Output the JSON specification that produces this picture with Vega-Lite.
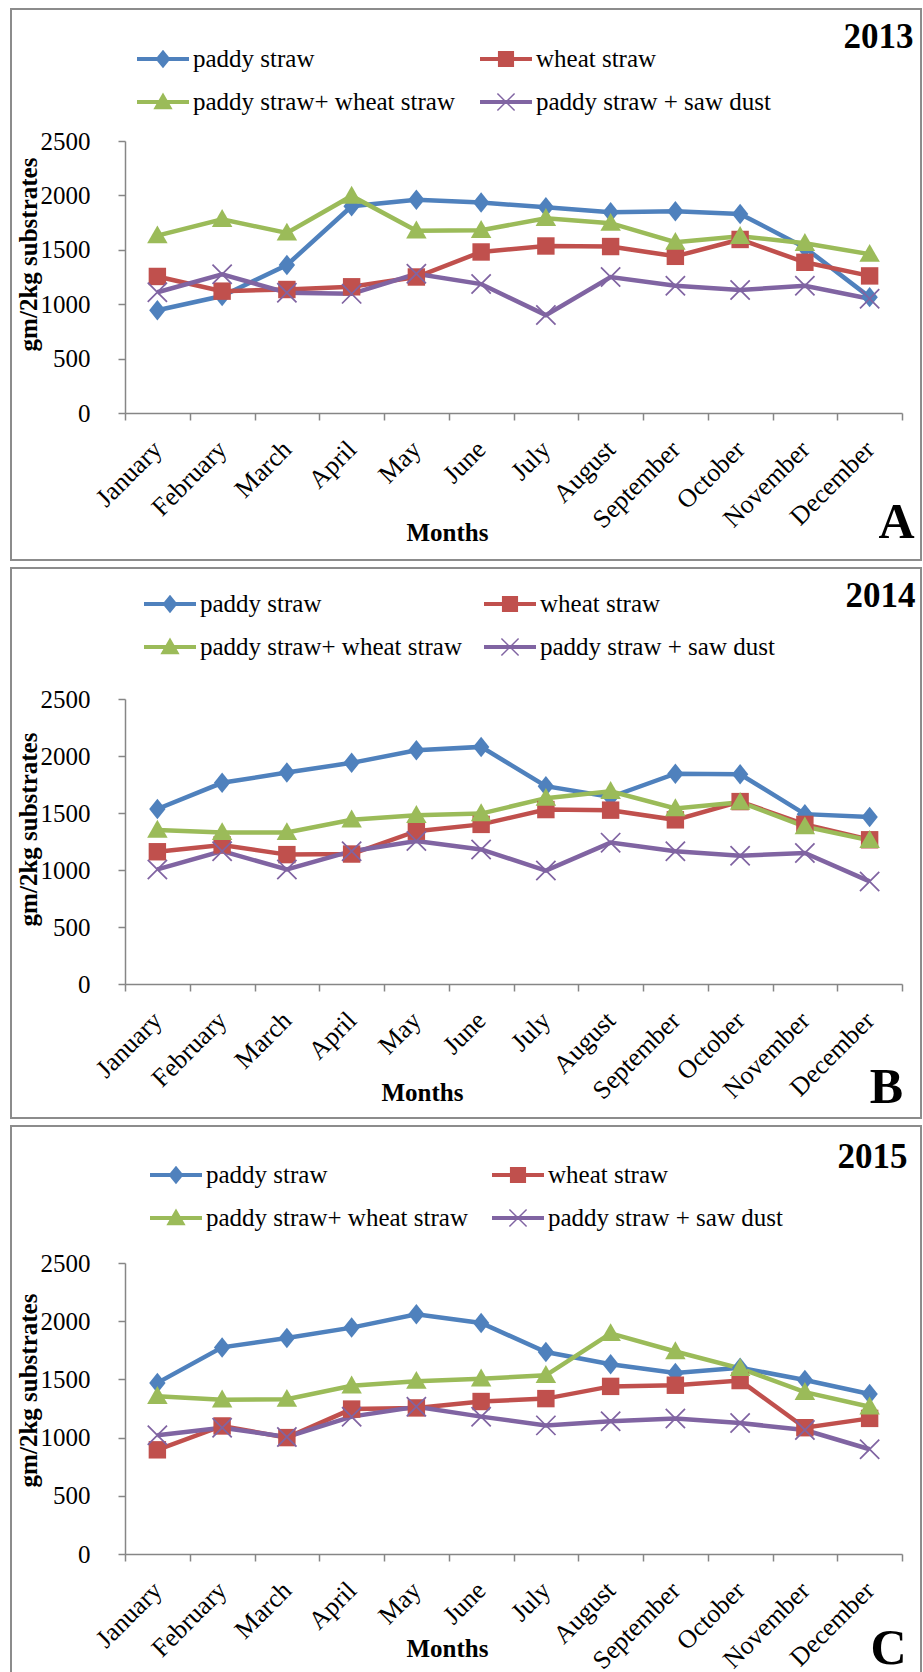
{
  "$schema": "https://vega.github.io/schema/vega-lite/v6.json",
  "padding": {"left": 0, "top": 8, "right": 5, "bottom": 0},
  "background": "white",
  "spacing": 8,
  "bounds": "flush",
  "config": {
    "font": "Liberation Serif",
    "view": {"stroke": "#8c8c8c", "strokeWidth": 2},
    "axis": {"labelFont": "Liberation Serif", "labelFontSize": 25, "labelColor": "#000000", "titleFont": "Liberation Serif", "titleFontSize": 25, "titleFontWeight": "bold", "titleColor": "#000000", "domainColor": "#868686", "domainWidth": 1.5, "tickColor": "#868686", "tickWidth": 1.5, "tickSize": 7, "grid": false, "labelOverlap": false},
    "legend": {"labelFont": "Liberation Serif", "labelFontSize": 25, "labelColor": "#000000", "labelLimit": 400}
  },
  "data": {"values": [
    {"year": 2013, "month": "January", "series": "paddy straw", "value": 945},
    {"year": 2013, "month": "February", "series": "paddy straw", "value": 1075},
    {"year": 2013, "month": "March", "series": "paddy straw", "value": 1360},
    {"year": 2013, "month": "April", "series": "paddy straw", "value": 1900},
    {"year": 2013, "month": "May", "series": "paddy straw", "value": 1960},
    {"year": 2013, "month": "June", "series": "paddy straw", "value": 1935},
    {"year": 2013, "month": "July", "series": "paddy straw", "value": 1890},
    {"year": 2013, "month": "August", "series": "paddy straw", "value": 1845},
    {"year": 2013, "month": "September", "series": "paddy straw", "value": 1855},
    {"year": 2013, "month": "October", "series": "paddy straw", "value": 1830},
    {"year": 2013, "month": "November", "series": "paddy straw", "value": 1520},
    {"year": 2013, "month": "December", "series": "paddy straw", "value": 1065},
    {"year": 2013, "month": "January", "series": "wheat straw", "value": 1255},
    {"year": 2013, "month": "February", "series": "wheat straw", "value": 1120},
    {"year": 2013, "month": "March", "series": "wheat straw", "value": 1135},
    {"year": 2013, "month": "April", "series": "wheat straw", "value": 1160},
    {"year": 2013, "month": "May", "series": "wheat straw", "value": 1250},
    {"year": 2013, "month": "June", "series": "wheat straw", "value": 1480},
    {"year": 2013, "month": "July", "series": "wheat straw", "value": 1535},
    {"year": 2013, "month": "August", "series": "wheat straw", "value": 1530},
    {"year": 2013, "month": "September", "series": "wheat straw", "value": 1440},
    {"year": 2013, "month": "October", "series": "wheat straw", "value": 1595},
    {"year": 2013, "month": "November", "series": "wheat straw", "value": 1385},
    {"year": 2013, "month": "December", "series": "wheat straw", "value": 1260},
    {"year": 2013, "month": "January", "series": "paddy straw+ wheat straw", "value": 1630},
    {"year": 2013, "month": "February", "series": "paddy straw+ wheat straw", "value": 1780},
    {"year": 2013, "month": "March", "series": "paddy straw+ wheat straw", "value": 1655},
    {"year": 2013, "month": "April", "series": "paddy straw+ wheat straw", "value": 1995},
    {"year": 2013, "month": "May", "series": "paddy straw+ wheat straw", "value": 1675},
    {"year": 2013, "month": "June", "series": "paddy straw+ wheat straw", "value": 1680},
    {"year": 2013, "month": "July", "series": "paddy straw+ wheat straw", "value": 1790},
    {"year": 2013, "month": "August", "series": "paddy straw+ wheat straw", "value": 1745},
    {"year": 2013, "month": "September", "series": "paddy straw+ wheat straw", "value": 1570},
    {"year": 2013, "month": "October", "series": "paddy straw+ wheat straw", "value": 1625},
    {"year": 2013, "month": "November", "series": "paddy straw+ wheat straw", "value": 1560},
    {"year": 2013, "month": "December", "series": "paddy straw+ wheat straw", "value": 1460},
    {"year": 2013, "month": "January", "series": "paddy straw + saw dust", "value": 1110},
    {"year": 2013, "month": "February", "series": "paddy straw + saw dust", "value": 1275},
    {"year": 2013, "month": "March", "series": "paddy straw + saw dust", "value": 1105},
    {"year": 2013, "month": "April", "series": "paddy straw + saw dust", "value": 1095},
    {"year": 2013, "month": "May", "series": "paddy straw + saw dust", "value": 1280},
    {"year": 2013, "month": "June", "series": "paddy straw + saw dust", "value": 1185},
    {"year": 2013, "month": "July", "series": "paddy straw + saw dust", "value": 900},
    {"year": 2013, "month": "August", "series": "paddy straw + saw dust", "value": 1250},
    {"year": 2013, "month": "September", "series": "paddy straw + saw dust", "value": 1170},
    {"year": 2013, "month": "October", "series": "paddy straw + saw dust", "value": 1130},
    {"year": 2013, "month": "November", "series": "paddy straw + saw dust", "value": 1170},
    {"year": 2013, "month": "December", "series": "paddy straw + saw dust", "value": 1050},
    {"year": 2014, "month": "January", "series": "paddy straw", "value": 1535},
    {"year": 2014, "month": "February", "series": "paddy straw", "value": 1765},
    {"year": 2014, "month": "March", "series": "paddy straw", "value": 1855},
    {"year": 2014, "month": "April", "series": "paddy straw", "value": 1940},
    {"year": 2014, "month": "May", "series": "paddy straw", "value": 2050},
    {"year": 2014, "month": "June", "series": "paddy straw", "value": 2080},
    {"year": 2014, "month": "July", "series": "paddy straw", "value": 1735},
    {"year": 2014, "month": "August", "series": "paddy straw", "value": 1640},
    {"year": 2014, "month": "September", "series": "paddy straw", "value": 1845},
    {"year": 2014, "month": "October", "series": "paddy straw", "value": 1840},
    {"year": 2014, "month": "November", "series": "paddy straw", "value": 1490},
    {"year": 2014, "month": "December", "series": "paddy straw", "value": 1465},
    {"year": 2014, "month": "January", "series": "wheat straw", "value": 1160},
    {"year": 2014, "month": "February", "series": "wheat straw", "value": 1220},
    {"year": 2014, "month": "March", "series": "wheat straw", "value": 1135},
    {"year": 2014, "month": "April", "series": "wheat straw", "value": 1140},
    {"year": 2014, "month": "May", "series": "wheat straw", "value": 1340},
    {"year": 2014, "month": "June", "series": "wheat straw", "value": 1400},
    {"year": 2014, "month": "July", "series": "wheat straw", "value": 1530},
    {"year": 2014, "month": "August", "series": "wheat straw", "value": 1525},
    {"year": 2014, "month": "September", "series": "wheat straw", "value": 1440},
    {"year": 2014, "month": "October", "series": "wheat straw", "value": 1600},
    {"year": 2014, "month": "November", "series": "wheat straw", "value": 1400},
    {"year": 2014, "month": "December", "series": "wheat straw", "value": 1265},
    {"year": 2014, "month": "January", "series": "paddy straw+ wheat straw", "value": 1350},
    {"year": 2014, "month": "February", "series": "paddy straw+ wheat straw", "value": 1330},
    {"year": 2014, "month": "March", "series": "paddy straw+ wheat straw", "value": 1330},
    {"year": 2014, "month": "April", "series": "paddy straw+ wheat straw", "value": 1440},
    {"year": 2014, "month": "May", "series": "paddy straw+ wheat straw", "value": 1480},
    {"year": 2014, "month": "June", "series": "paddy straw+ wheat straw", "value": 1495},
    {"year": 2014, "month": "July", "series": "paddy straw+ wheat straw", "value": 1630},
    {"year": 2014, "month": "August", "series": "paddy straw+ wheat straw", "value": 1690},
    {"year": 2014, "month": "September", "series": "paddy straw+ wheat straw", "value": 1540},
    {"year": 2014, "month": "October", "series": "paddy straw+ wheat straw", "value": 1595},
    {"year": 2014, "month": "November", "series": "paddy straw+ wheat straw", "value": 1380},
    {"year": 2014, "month": "December", "series": "paddy straw+ wheat straw", "value": 1260},
    {"year": 2014, "month": "January", "series": "paddy straw + saw dust", "value": 1005},
    {"year": 2014, "month": "February", "series": "paddy straw + saw dust", "value": 1165},
    {"year": 2014, "month": "March", "series": "paddy straw + saw dust", "value": 1005},
    {"year": 2014, "month": "April", "series": "paddy straw + saw dust", "value": 1165},
    {"year": 2014, "month": "May", "series": "paddy straw + saw dust", "value": 1255},
    {"year": 2014, "month": "June", "series": "paddy straw + saw dust", "value": 1180},
    {"year": 2014, "month": "July", "series": "paddy straw + saw dust", "value": 995},
    {"year": 2014, "month": "August", "series": "paddy straw + saw dust", "value": 1240},
    {"year": 2014, "month": "September", "series": "paddy straw + saw dust", "value": 1165},
    {"year": 2014, "month": "October", "series": "paddy straw + saw dust", "value": 1125},
    {"year": 2014, "month": "November", "series": "paddy straw + saw dust", "value": 1150},
    {"year": 2014, "month": "December", "series": "paddy straw + saw dust", "value": 900},
    {"year": 2015, "month": "January", "series": "paddy straw", "value": 1470},
    {"year": 2015, "month": "February", "series": "paddy straw", "value": 1775},
    {"year": 2015, "month": "March", "series": "paddy straw", "value": 1855},
    {"year": 2015, "month": "April", "series": "paddy straw", "value": 1945},
    {"year": 2015, "month": "May", "series": "paddy straw", "value": 2060},
    {"year": 2015, "month": "June", "series": "paddy straw", "value": 1985},
    {"year": 2015, "month": "July", "series": "paddy straw", "value": 1735},
    {"year": 2015, "month": "August", "series": "paddy straw", "value": 1630},
    {"year": 2015, "month": "September", "series": "paddy straw", "value": 1555},
    {"year": 2015, "month": "October", "series": "paddy straw", "value": 1600},
    {"year": 2015, "month": "November", "series": "paddy straw", "value": 1495},
    {"year": 2015, "month": "December", "series": "paddy straw", "value": 1375},
    {"year": 2015, "month": "January", "series": "wheat straw", "value": 895},
    {"year": 2015, "month": "February", "series": "wheat straw", "value": 1100},
    {"year": 2015, "month": "March", "series": "wheat straw", "value": 1000},
    {"year": 2015, "month": "April", "series": "wheat straw", "value": 1245},
    {"year": 2015, "month": "May", "series": "wheat straw", "value": 1255},
    {"year": 2015, "month": "June", "series": "wheat straw", "value": 1310},
    {"year": 2015, "month": "July", "series": "wheat straw", "value": 1335},
    {"year": 2015, "month": "August", "series": "wheat straw", "value": 1440},
    {"year": 2015, "month": "September", "series": "wheat straw", "value": 1450},
    {"year": 2015, "month": "October", "series": "wheat straw", "value": 1490},
    {"year": 2015, "month": "November", "series": "wheat straw", "value": 1085},
    {"year": 2015, "month": "December", "series": "wheat straw", "value": 1165},
    {"year": 2015, "month": "January", "series": "paddy straw+ wheat straw", "value": 1355},
    {"year": 2015, "month": "February", "series": "paddy straw+ wheat straw", "value": 1325},
    {"year": 2015, "month": "March", "series": "paddy straw+ wheat straw", "value": 1330},
    {"year": 2015, "month": "April", "series": "paddy straw+ wheat straw", "value": 1445},
    {"year": 2015, "month": "May", "series": "paddy straw+ wheat straw", "value": 1485},
    {"year": 2015, "month": "June", "series": "paddy straw+ wheat straw", "value": 1505},
    {"year": 2015, "month": "July", "series": "paddy straw+ wheat straw", "value": 1535},
    {"year": 2015, "month": "August", "series": "paddy straw+ wheat straw", "value": 1895},
    {"year": 2015, "month": "September", "series": "paddy straw+ wheat straw", "value": 1740},
    {"year": 2015, "month": "October", "series": "paddy straw+ wheat straw", "value": 1595},
    {"year": 2015, "month": "November", "series": "paddy straw+ wheat straw", "value": 1390},
    {"year": 2015, "month": "December", "series": "paddy straw+ wheat straw", "value": 1265},
    {"year": 2015, "month": "January", "series": "paddy straw + saw dust", "value": 1020},
    {"year": 2015, "month": "February", "series": "paddy straw + saw dust", "value": 1085},
    {"year": 2015, "month": "March", "series": "paddy straw + saw dust", "value": 1005},
    {"year": 2015, "month": "April", "series": "paddy straw + saw dust", "value": 1180},
    {"year": 2015, "month": "May", "series": "paddy straw + saw dust", "value": 1265},
    {"year": 2015, "month": "June", "series": "paddy straw + saw dust", "value": 1180},
    {"year": 2015, "month": "July", "series": "paddy straw + saw dust", "value": 1105},
    {"year": 2015, "month": "August", "series": "paddy straw + saw dust", "value": 1140},
    {"year": 2015, "month": "September", "series": "paddy straw + saw dust", "value": 1165},
    {"year": 2015, "month": "October", "series": "paddy straw + saw dust", "value": 1125},
    {"year": 2015, "month": "November", "series": "paddy straw + saw dust", "value": 1065},
    {"year": 2015, "month": "December", "series": "paddy straw + saw dust", "value": 900}
  ]},
  "vconcat": [
    {
      "width": 910, "height": 551,
      "transform": [{"filter": "datum.year == 2013"}],
      "layer": [
        {
          "mark": {"type": "line", "strokeWidth": 4.5},
          "encoding": {
            "x": {"field": "month", "type": "nominal", "sort": ["January","February","March","April","May","June","July","August","September","October","November","December"], "scale": {"type": "band", "range": [114, 891], "paddingInner": 0, "paddingOuter": 0},
              "axis": {"orient": "bottom", "offset": -147, "tickBand": "extent", "labelAngle": -45, "labelAlign": "right", "labelBaseline": "middle", "labelPadding": 25, "labelFontSize": 26, "title": "Months", "titleX": 436, "titleY": 119, "titleAlign": "center", "titleBaseline": "middle"}},
            "y": {"field": "value", "type": "quantitative", "scale": {"domain": [0, 2500], "range": [404, 132], "nice": false, "zero": true},
              "axis": {"orient": "left", "offset": -114, "values": [0, 500, 1000, 1500, 2000, 2500], "format": "d", "labelPadding": 28, "title": "gm/2kg substrates", "titleX": -97, "titleY": 245, "titleAngle": -90, "titleAlign": "center", "titleBaseline": "middle"}},
            "color": {"field": "series", "type": "nominal", "scale": {"domain": ["paddy straw", "wheat straw", "paddy straw+ wheat straw", "paddy straw + saw dust"], "range": ["#4F81BD", "#C0504D", "#9BBB59", "#8064A2"]}, "legend": null}
          }
        },
        {
          "mark": {"type": "point", "filled": true, "opacity": 1, "size": 420},
          "encoding": {
            "x": {"field": "month", "type": "nominal", "sort": ["January","February","March","April","May","June","July","August","September","October","November","December"], "scale": {"type": "band", "range": [114, 891], "paddingInner": 0, "paddingOuter": 0},
              "axis": {"orient": "top", "domain": false, "ticks": false, "labels": false, "title": "2013", "titleX": 902, "titleY": 27, "titleAlign": "right", "titleBaseline": "middle", "titleFontSize": 35}},
            "y": {"field": "value", "type": "quantitative", "scale": {"domain": [0, 2500], "range": [404, 132], "nice": false, "zero": true},
              "axis": {"orient": "right", "domain": false, "ticks": false, "labels": false, "title": "A", "titleX": -25, "titleY": 513, "titleAngle": 0, "titleAlign": "center", "titleBaseline": "middle", "titleFontSize": 50}},
            "color": {"field": "series", "type": "nominal", "scale": {"domain": ["paddy straw", "wheat straw", "paddy straw+ wheat straw", "paddy straw + saw dust"], "range": ["#4F81BD", "#C0504D", "#9BBB59", "#8064A2"]}, "legend": null},
            "shape": {"field": "series", "type": "nominal", "scale": {"range": ["M0,-1L0.8,0L0,1L-0.8,0Z", "M-1,-0.88L-0.88,-1L1,0.88L0.88,1Z M1,-0.88L-0.88,1L-1,0.88L0.88,-1Z", "M0,-1L1,0.75H-1Z", "M-0.85,-0.85H0.85V0.85H-0.85Z"]}, "legend": null}
          }
        },
        {
          "transform": [{"filter": "false"}],
          "mark": {"type": "point", "filled": true, "opacity": 1},
          "encoding": {
            "x": {"field": "month", "type": "nominal", "sort": ["January","February","March","April","May","June","July","August","September","October","November","December"], "axis": null},
            "y": {"field": "value", "type": "quantitative", "axis": null},
            "color": {"field": "series", "type": "nominal", "scale": {"domain": ["paddy straw", "wheat straw", "paddy straw+ wheat straw", "paddy straw + saw dust"], "range": ["#4F81BD", "#C0504D", "#9BBB59", "#8064A2"]},
              "legend": {"orient": "none", "legendX": 126, "legendY": 24, "direction": "horizontal", "columns": 2, "title": null, "padding": 0, "symbolSize": 2704, "symbolStrokeWidth": 0, "symbolOpacity": 1, "labelOffset": 4, "columnPadding": 25, "rowPadding": 4}},
            "shape": {"field": "series", "type": "nominal", "scale": {"domain": ["paddy straw", "wheat straw", "paddy straw+ wheat straw", "paddy straw + saw dust"], "range": ["M-1,-0.08H1V0.08H-1Z M0,-0.36L0.29,0L0,0.36L-0.29,0Z", "M-1,-0.08H1V0.08H-1Z M-0.31,-0.31H0.31V0.31H-0.31Z", "M-1,-0.08H1V0.08H-1Z M0,-0.37L0.37,0.28H-0.37Z", "M-1,-0.08H1V0.08H-1Z M-0.35,-0.31L-0.31,-0.35L0.35,0.31L0.31,0.35Z M0.35,-0.31L-0.31,0.35L-0.35,0.31L0.31,-0.35Z"]}}
          }
        }
      ],
      "resolve": {"scale": {"shape": "independent"}, "axis": {"x": "independent", "y": "independent"}, "legend": {"color": "independent", "shape": "independent"}}
    },
    {
      "width": 910, "height": 550,
      "transform": [{"filter": "datum.year == 2014"}],
      "layer": [
        {
          "mark": {"type": "line", "strokeWidth": 4.5},
          "encoding": {
            "x": {"field": "month", "type": "nominal", "sort": ["January","February","March","April","May","June","July","August","September","October","November","December"], "scale": {"type": "band", "range": [114, 891], "paddingInner": 0, "paddingOuter": 0},
              "axis": {"orient": "bottom", "offset": -134, "tickBand": "extent", "labelAngle": -45, "labelAlign": "right", "labelBaseline": "middle", "labelPadding": 25, "labelFontSize": 26, "title": "Months", "titleX": 411, "titleY": 108, "titleAlign": "center", "titleBaseline": "middle"}},
            "y": {"field": "value", "type": "quantitative", "scale": {"domain": [0, 2500], "range": [416, 131], "nice": false, "zero": true},
              "axis": {"orient": "left", "offset": -114, "values": [0, 500, 1000, 1500, 2000, 2500], "format": "d", "labelPadding": 28, "title": "gm/2kg substrates", "titleX": -97, "titleY": 261, "titleAngle": -90, "titleAlign": "center", "titleBaseline": "middle"}},
            "color": {"field": "series", "type": "nominal", "scale": {"domain": ["paddy straw", "wheat straw", "paddy straw+ wheat straw", "paddy straw + saw dust"], "range": ["#4F81BD", "#C0504D", "#9BBB59", "#8064A2"]}, "legend": null}
          }
        },
        {
          "mark": {"type": "point", "filled": true, "opacity": 1, "size": 420},
          "encoding": {
            "x": {"field": "month", "type": "nominal", "sort": ["January","February","March","April","May","June","July","August","September","October","November","December"], "scale": {"type": "band", "range": [114, 891], "paddingInner": 0, "paddingOuter": 0},
              "axis": {"orient": "top", "domain": false, "ticks": false, "labels": false, "title": "2014", "titleX": 904, "titleY": 27, "titleAlign": "right", "titleBaseline": "middle", "titleFontSize": 35}},
            "y": {"field": "value", "type": "quantitative", "scale": {"domain": [0, 2500], "range": [416, 131], "nice": false, "zero": true},
              "axis": {"orient": "right", "domain": false, "ticks": false, "labels": false, "title": "B", "titleX": -35, "titleY": 519, "titleAngle": 0, "titleAlign": "center", "titleBaseline": "middle", "titleFontSize": 50}},
            "color": {"field": "series", "type": "nominal", "scale": {"domain": ["paddy straw", "wheat straw", "paddy straw+ wheat straw", "paddy straw + saw dust"], "range": ["#4F81BD", "#C0504D", "#9BBB59", "#8064A2"]}, "legend": null},
            "shape": {"field": "series", "type": "nominal", "scale": {"range": ["M0,-1L0.8,0L0,1L-0.8,0Z", "M-1,-0.88L-0.88,-1L1,0.88L0.88,1Z M1,-0.88L-0.88,1L-1,0.88L0.88,-1Z", "M0,-1L1,0.75H-1Z", "M-0.85,-0.85H0.85V0.85H-0.85Z"]}, "legend": null}
          }
        },
        {
          "transform": [{"filter": "false"}],
          "mark": {"type": "point", "filled": true, "opacity": 1},
          "encoding": {
            "x": {"field": "month", "type": "nominal", "sort": ["January","February","March","April","May","June","July","August","September","October","November","December"], "axis": null},
            "y": {"field": "value", "type": "quantitative", "axis": null},
            "color": {"field": "series", "type": "nominal", "scale": {"domain": ["paddy straw", "wheat straw", "paddy straw+ wheat straw", "paddy straw + saw dust"], "range": ["#4F81BD", "#C0504D", "#9BBB59", "#8064A2"]},
              "legend": {"orient": "none", "legendX": 133, "legendY": 10, "direction": "horizontal", "columns": 2, "title": null, "padding": 0, "symbolSize": 2704, "symbolStrokeWidth": 0, "symbolOpacity": 1, "labelOffset": 4, "columnPadding": 22, "rowPadding": 4}},
            "shape": {"field": "series", "type": "nominal", "scale": {"domain": ["paddy straw", "wheat straw", "paddy straw+ wheat straw", "paddy straw + saw dust"], "range": ["M-1,-0.08H1V0.08H-1Z M0,-0.36L0.29,0L0,0.36L-0.29,0Z", "M-1,-0.08H1V0.08H-1Z M-0.31,-0.31H0.31V0.31H-0.31Z", "M-1,-0.08H1V0.08H-1Z M0,-0.37L0.37,0.28H-0.37Z", "M-1,-0.08H1V0.08H-1Z M-0.35,-0.31L-0.31,-0.35L0.35,0.31L0.31,0.35Z M0.35,-0.31L-0.31,0.35L-0.35,0.31L0.31,-0.35Z"]}}
          }
        }
      ],
      "resolve": {"scale": {"shape": "independent"}, "axis": {"x": "independent", "y": "independent"}, "legend": {"color": "independent", "shape": "independent"}}
    },
    {
      "width": 910, "height": 556,
      "transform": [{"filter": "datum.year == 2015"}],
      "layer": [
        {
          "mark": {"type": "line", "strokeWidth": 4.5},
          "encoding": {
            "x": {"field": "month", "type": "nominal", "sort": ["January","February","March","April","May","June","July","August","September","October","November","December"], "scale": {"type": "band", "range": [114, 891], "paddingInner": 0, "paddingOuter": 0},
              "axis": {"orient": "bottom", "offset": -128, "tickBand": "extent", "labelAngle": -45, "labelAlign": "right", "labelBaseline": "middle", "labelPadding": 25, "labelFontSize": 26, "title": "Months", "titleX": 436, "titleY": 94, "titleAlign": "center", "titleBaseline": "middle"}},
            "y": {"field": "value", "type": "quantitative", "scale": {"domain": [0, 2500], "range": [428, 137], "nice": false, "zero": true},
              "axis": {"orient": "left", "offset": -114, "values": [0, 500, 1000, 1500, 2000, 2500], "format": "d", "labelPadding": 28, "title": "gm/2kg substrates", "titleX": -97, "titleY": 264, "titleAngle": -90, "titleAlign": "center", "titleBaseline": "middle"}},
            "color": {"field": "series", "type": "nominal", "scale": {"domain": ["paddy straw", "wheat straw", "paddy straw+ wheat straw", "paddy straw + saw dust"], "range": ["#4F81BD", "#C0504D", "#9BBB59", "#8064A2"]}, "legend": null}
          }
        },
        {
          "mark": {"type": "point", "filled": true, "opacity": 1, "size": 420},
          "encoding": {
            "x": {"field": "month", "type": "nominal", "sort": ["January","February","March","April","May","June","July","August","September","October","November","December"], "scale": {"type": "band", "range": [114, 891], "paddingInner": 0, "paddingOuter": 0},
              "axis": {"orient": "top", "domain": false, "ticks": false, "labels": false, "title": "2015", "titleX": 896, "titleY": 30, "titleAlign": "right", "titleBaseline": "middle", "titleFontSize": 35}},
            "y": {"field": "value", "type": "quantitative", "scale": {"domain": [0, 2500], "range": [428, 137], "nice": false, "zero": true},
              "axis": {"orient": "right", "domain": false, "ticks": false, "labels": false, "title": "C", "titleX": -33, "titleY": 522, "titleAngle": 0, "titleAlign": "center", "titleBaseline": "middle", "titleFontSize": 50}},
            "color": {"field": "series", "type": "nominal", "scale": {"domain": ["paddy straw", "wheat straw", "paddy straw+ wheat straw", "paddy straw + saw dust"], "range": ["#4F81BD", "#C0504D", "#9BBB59", "#8064A2"]}, "legend": null},
            "shape": {"field": "series", "type": "nominal", "scale": {"range": ["M0,-1L0.8,0L0,1L-0.8,0Z", "M-1,-0.88L-0.88,-1L1,0.88L0.88,1Z M1,-0.88L-0.88,1L-1,0.88L0.88,-1Z", "M0,-1L1,0.75H-1Z", "M-0.85,-0.85H0.85V0.85H-0.85Z"]}, "legend": null}
          }
        },
        {
          "transform": [{"filter": "false"}],
          "mark": {"type": "point", "filled": true, "opacity": 1},
          "encoding": {
            "x": {"field": "month", "type": "nominal", "sort": ["January","February","March","April","May","June","July","August","September","October","November","December"], "axis": null},
            "y": {"field": "value", "type": "quantitative", "axis": null},
            "color": {"field": "series", "type": "nominal", "scale": {"domain": ["paddy straw", "wheat straw", "paddy straw+ wheat straw", "paddy straw + saw dust"], "range": ["#4F81BD", "#C0504D", "#9BBB59", "#8064A2"]},
              "legend": {"orient": "none", "legendX": 139, "legendY": 23, "direction": "horizontal", "columns": 2, "title": null, "padding": 0, "symbolSize": 2704, "symbolStrokeWidth": 0, "symbolOpacity": 1, "labelOffset": 4, "columnPadding": 24, "rowPadding": 4}},
            "shape": {"field": "series", "type": "nominal", "scale": {"domain": ["paddy straw", "wheat straw", "paddy straw+ wheat straw", "paddy straw + saw dust"], "range": ["M-1,-0.08H1V0.08H-1Z M0,-0.36L0.29,0L0,0.36L-0.29,0Z", "M-1,-0.08H1V0.08H-1Z M-0.31,-0.31H0.31V0.31H-0.31Z", "M-1,-0.08H1V0.08H-1Z M0,-0.37L0.37,0.28H-0.37Z", "M-1,-0.08H1V0.08H-1Z M-0.35,-0.31L-0.31,-0.35L0.35,0.31L0.31,0.35Z M0.35,-0.31L-0.31,0.35L-0.35,0.31L0.31,-0.35Z"]}}
          }
        }
      ],
      "resolve": {"scale": {"shape": "independent"}, "axis": {"x": "independent", "y": "independent"}, "legend": {"color": "independent", "shape": "independent"}}
    }
  ]
}
